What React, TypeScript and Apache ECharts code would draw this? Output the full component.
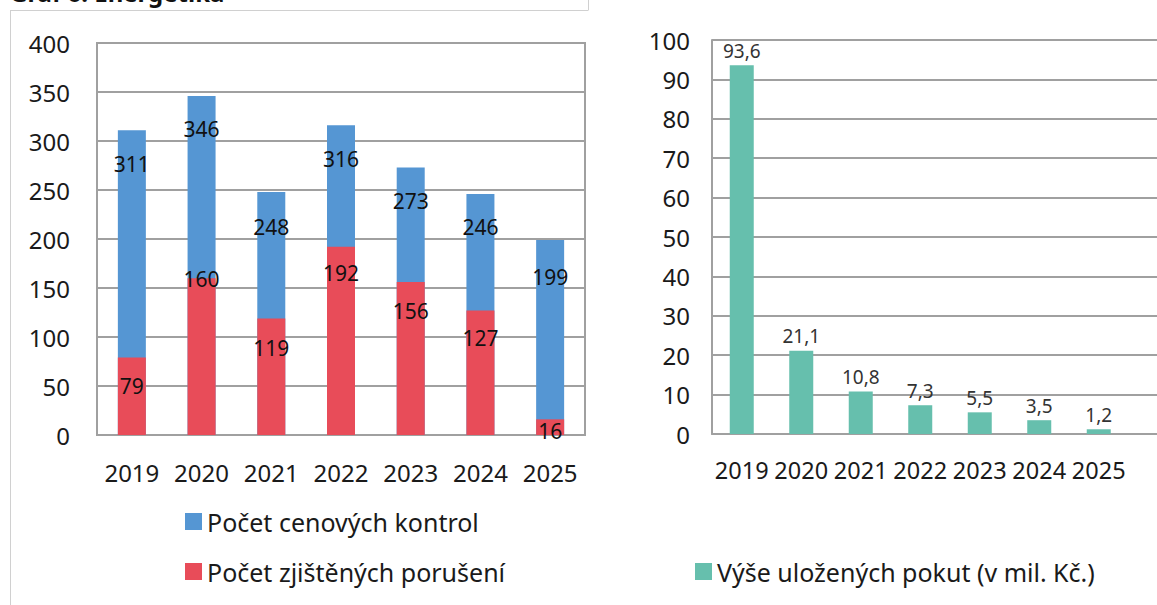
import React, { useEffect, useRef } from "react";
import * as echarts from "echarts";

const years = ["2019", "2020", "2021", "2022", "2023", "2024", "2025"];
const kontroly = [311, 346, 248, 316, 273, 246, 199];
const poruseni = [79, 160, 119, 192, 156, 127, 16];
const pokuty = [93.6, 21.1, 10.8, 7.3, 5.5, 3.5, 1.2];
const leftTicks = { min: 0, max: 400, interval: 50 };
const rightTicks = { min: 0, max: 100, interval: 10 };

// per-label offsets (style only)
const redLabelDist = [18, -10, 19, 16, 18, 17, 1];
const blueLabelDist = [23, 23, 25, 23, 23, 23, 27];

const FONT = "Noto Sans";
const GRID = "#a0a0a0";

export default function App() {
  const ref = useRef<HTMLDivElement>(null);
  useEffect(() => {
    document.body.style.margin = "0";
    const chart = echarts.init(ref.current!, null, { renderer: "svg" });
    const axisLabel = { color: "#1a1a1a", fontSize: 24, fontFamily: FONT };
    const line = { show: true, lineStyle: { color: GRID, width: 2 } };
    const option: any = {
      animation: false,
      backgroundColor: "#fff",
      textStyle: { fontFamily: FONT },
      grid: [
        { left: 97, top: 43, width: 488, height: 392, show: true, borderColor: GRID, borderWidth: 2, backgroundColor: "transparent" },
        { left: 712, top: 40, width: 445, height: 394, show: false },
        { left: 712, top: 40, width: 416.5, height: 394, show: false },
      ],
      xAxis: [
        {
          type: "category", gridIndex: 0, data: years,
          axisLine: line, axisTick: { show: false },
          axisLabel: { ...axisLabel, margin: 25, interval: 0 },
        },
        {
          type: "value", gridIndex: 1, min: 0, max: 1,
          axisLine: line, axisTick: { show: false }, axisLabel: { show: false }, splitLine: { show: false },
        },
        {
          type: "category", gridIndex: 2, data: years,
          axisLine: { show: false }, axisTick: { show: false },
          axisLabel: { ...axisLabel, fontSize: 23.5, margin: 24, interval: 0, hideOverlap: false },
        },
      ],
      yAxis: [
        {
          type: "value", gridIndex: 0, ...leftTicks,
          axisLine: line, axisTick: { show: false },
          splitLine: line,
          axisLabel: { ...axisLabel, margin: 27 },
        },
        {
          type: "value", gridIndex: 1, ...rightTicks,
          axisLine: line, axisTick: { show: false },
          splitLine: line,
          axisLabel: { ...axisLabel, margin: 22 },
        },
        {
          type: "value", gridIndex: 2, ...rightTicks,
          axisLine: { show: false }, axisTick: { show: false },
          splitLine: { show: false }, axisLabel: { show: false },
        },
      ],
      legend: [
        {
          data: ["Počet cenových kontrol", "Počet zjištěných porušení"],
          orient: "vertical", left: 180, top: 504, itemGap: 25,
          itemWidth: 17, itemHeight: 17, icon: "rect",
          textStyle: { fontSize: 25, color: "#1a1a1a", fontFamily: FONT },
        },
        {
          data: ["Výše uložených pokut (v mil. Kč.)"],
          left: 690, top: 554,
          itemWidth: 17, itemHeight: 17, icon: "rect",
          textStyle: { fontSize: 25, color: "#1a1a1a", fontFamily: FONT },
        },
      ],
      series: [
        {
          name: "Počet cenových kontrol", type: "bar", xAxisIndex: 0, yAxisIndex: 0,
          barWidth: 28, barGap: "-100%",
          itemStyle: { color: "#5596d3" },
          data: kontroly.map((v, i) => ({ value: v, label: { distance: blueLabelDist[i] } })),
          label: { show: true, position: "insideTop", color: "#111", fontSize: 21, fontFamily: FONT },
        },
        {
          name: "Počet zjištěných porušení", type: "bar", xAxisIndex: 0, yAxisIndex: 0,
          barWidth: 28, barGap: "-100%",
          itemStyle: { color: "#e84c59" },
          data: poruseni.map((v, i) => ({ value: v, label: { distance: redLabelDist[i] } })),
          label: { show: true, position: "insideTop", color: "#111", fontSize: 21, fontFamily: FONT },
        },
        {
          name: "Výše uložených pokut (v mil. Kč.)", type: "bar", xAxisIndex: 2, yAxisIndex: 2,
          barWidth: 24,
          itemStyle: { color: "#66bfad" },
          data: pokuty,
          label: {
            show: true, position: "top", distance: 5, color: "#333", fontSize: 19, fontFamily: FONT,
            formatter: (p: any) => String(p.value).replace(".", ","),
          },
        },
      ],
      graphic: [
        { type: "line", shape: { x1: 10, y1: 10.5, x2: 588, y2: 10.5 }, style: { stroke: "#d0d0d0", lineWidth: 1 } },
        { type: "line", shape: { x1: 588.5, y1: 0, x2: 588.5, y2: 10.5 }, style: { stroke: "#d0d0d0", lineWidth: 1 } },
        { type: "line", shape: { x1: 10.5, y1: 10, x2: 10.5, y2: 605 }, style: { stroke: "#d0d0d0", lineWidth: 1 } },
        {
          type: "text", left: 10, top: -20,
          style: { text: "Graf 6: Energetika", fontSize: 24, fontWeight: "bold", fontFamily: FONT, fill: "#111" },
        },
      ],
    };
    chart.setOption(option);
    return () => chart.dispose();
  }, []);
  return <div ref={ref} style={{ width: 1157, height: 605 }} />;
}
